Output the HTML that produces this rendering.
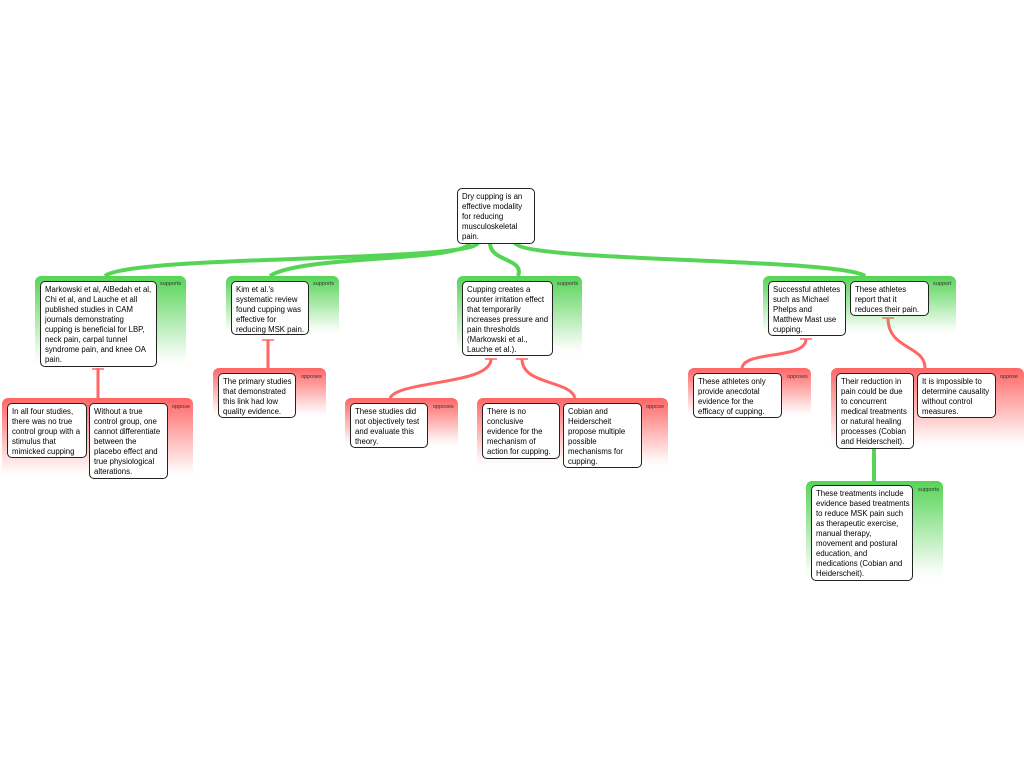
<!DOCTYPE html>
<html><head><meta charset="utf-8"><style>
body{margin:0;width:1024px;height:768px;background:#fff;position:relative;overflow:hidden;font-family:"Liberation Sans",sans-serif;}
.g{position:absolute;border-radius:6px 6px 0 0;background:linear-gradient(#55d455,rgba(85,212,85,0.05) 90%,rgba(255,255,255,0));}
.r{position:absolute;border-radius:6px 6px 0 0;background:linear-gradient(#f66,rgba(255,102,102,0.05) 90%,rgba(255,255,255,0));}
.b{position:absolute;background:#fff;border:1px solid #222;border-radius:5px;font-size:7.8px;line-height:10px;padding:3px 4px;box-sizing:border-box;color:#000;white-space:nowrap;overflow:hidden;}
.l{position:absolute;font-size:5.5px;color:#333;}
svg{position:absolute;left:0;top:0;}
</style></head><body>
<svg width="1024" height="768">
<g fill="none" stroke="#55d455" stroke-width="4">
<path d="M478 243 C470 262,130 255,105 276"/>
<path d="M470 243 C460 262,300 255,270 276"/>
<path d="M490 243 C490 262,525 258,518 276"/>
<path d="M515 243 C525 262,840 258,865 276"/>
<path d="M874 448 C874 470,874 475,874 481"/>
</g>
<g fill="none" stroke="#f66" stroke-width="3">
<path d="M98 368 C98 395,98 390,98 398"/>
<path d="M268 340 C268 365,268 360,268 368"/>
<path d="M491 359 C491 385,400 380,390 398"/>
<path d="M522 359 C522 385,570 380,575 398"/>
<path d="M806 339 C806 360,745 350,742 368"/>
<path d="M888 318 C888 350,925 345,925 368"/>
</g>
<g stroke="#f66" stroke-width="1.5">
<path d="M92 369h12M262 340h12M485 359h12M516 359h12M800 339h12M882 318h12"/>
</g>
</svg>
<div class="b" style="left:457px;top:188px;width:78px;height:56px">Dry cupping is an<br>effective modality<br>for reducing<br>musculoskeletal<br>pain.</div>

<div class="g" style="left:35px;top:276px;width:151px;height:90px"></div>
<div class="b" style="left:40px;top:281px;width:117px;height:86px">Markowski et al, AlBedah et al,<br>Chi et al, and Lauche et all<br>published studies in CAM<br>journals demonstrating<br>cupping is beneficial for LBP,<br>neck pain, carpal tunnel<br>syndrome pain, and knee OA<br>pain.</div>
<div class="l" style="left:160px;top:281px">supports</div>

<div class="g" style="left:226px;top:276px;width:113px;height:59px"></div>
<div class="b" style="left:231px;top:281px;width:78px;height:54px">Kim et al.'s<br>systematic review<br>found cupping was<br>effective for<br>reducing MSK pain.</div>
<div class="l" style="left:313px;top:281px">supports</div>

<div class="g" style="left:457px;top:276px;width:125px;height:79px"></div>
<div class="b" style="left:462px;top:281px;width:91px;height:75px">Cupping creates a<br>counter irritation effect<br>that temporarily<br>increases pressure and<br>pain thresholds<br>(Markowski et al.,<br>Lauche et al.).</div>
<div class="l" style="left:557px;top:281px">supports</div>

<div class="g" style="left:763px;top:276px;width:193px;height:59px"></div>
<div class="b" style="left:768px;top:281px;width:78px;height:55px">Successful athletes<br>such as Michael<br>Phelps and<br>Matthew Mast use<br>cupping.</div>
<div class="b" style="left:850px;top:281px;width:79px;height:35px">These athletes<br>report that it<br>reduces their pain.</div>
<div class="l" style="left:933px;top:281px">support</div>

<div class="r" style="left:2px;top:398px;width:191px;height:80px"></div>
<div class="b" style="left:7px;top:403px;width:80px;height:55px">In all four studies,<br>there was no true<br>control group with a<br>stimulus that<br>mimicked cupping</div>
<div class="b" style="left:89px;top:403px;width:79px;height:76px">Without a true<br>control group, one<br>cannot differentiate<br>between the<br>placebo effect and<br>true physiological<br>alterations.</div>
<div class="l" style="left:172px;top:404px">oppose</div>

<div class="r" style="left:213px;top:368px;width:113px;height:49px"></div>
<div class="b" style="left:218px;top:373px;width:78px;height:45px">The primary studies<br>that demonstrated<br>this link had low<br>quality evidence.</div>
<div class="l" style="left:301px;top:374px">opposes</div>

<div class="r" style="left:345px;top:398px;width:113px;height:49px"></div>
<div class="b" style="left:350px;top:403px;width:78px;height:45px">These studies did<br>not objectively test<br>and evaluate this<br>theory.</div>
<div class="l" style="left:433px;top:404px">opposes</div>

<div class="r" style="left:477px;top:398px;width:191px;height:69px"></div>
<div class="b" style="left:482px;top:403px;width:78px;height:56px">There is no<br>conclusive<br>evidence for the<br>mechanism of<br>action for cupping.</div>
<div class="b" style="left:563px;top:403px;width:79px;height:65px">Cobian and<br>Heiderscheit<br>propose multiple<br>possible<br>mechanisms for<br>cupping.</div>
<div class="l" style="left:646px;top:404px">oppose</div>

<div class="r" style="left:688px;top:368px;width:123px;height:49px"></div>
<div class="b" style="left:693px;top:373px;width:89px;height:45px">These athletes only<br>provide anecdotal<br>evidence for the<br>efficacy of cupping.</div>
<div class="l" style="left:787px;top:374px">opposes</div>

<div class="r" style="left:831px;top:368px;width:193px;height:80px"></div>
<div class="b" style="left:836px;top:373px;width:78px;height:76px">Their reduction in<br>pain could be due<br>to concurrent<br>medical treatments<br>or natural healing<br>processes (Cobian<br>and Heiderscheit).</div>
<div class="b" style="left:917px;top:373px;width:79px;height:45px">It is impossible to<br>determine causality<br>without control<br>measures.</div>
<div class="l" style="left:1000px;top:374px">oppose</div>

<div class="g" style="left:806px;top:481px;width:137px;height:99px"></div>
<div class="b" style="left:811px;top:485px;width:102px;height:96px">These treatments include<br>evidence based treatments<br>to reduce MSK pain such<br>as therapeutic exercise,<br>manual therapy,<br>movement and postural<br>education, and<br>medications (Cobian and<br>Heiderscheit).</div>
<div class="l" style="left:918px;top:487px">supports</div>
</body></html>
